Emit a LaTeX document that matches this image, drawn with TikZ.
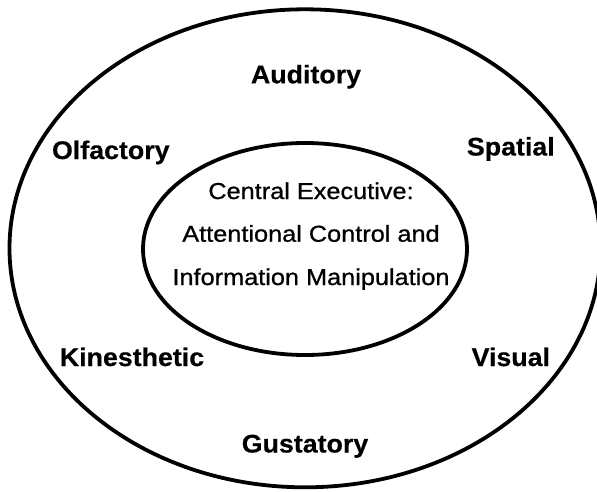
\documentclass[tikz,border=0pt]{standalone}
\usepackage{fontspec}
\newfontfamily\outerfont[FakeStretch=1.05,FakeBold=0.4]{Liberation Sans}
\newfontfamily\innerfont[FakeStretch=1.1,FakeBold=0.8]{Liberation Sans}
\begin{document}
\begin{tikzpicture}[x=1pt,y=-1pt,
  ring/.style={draw=black,line width=3.8pt},
  sense/.style={anchor=base,inner sep=0pt,font=\outerfont\bfseries\fontsize{25.5}{30}\selectfont},
  core/.style={anchor=base,inner sep=0pt,font=\innerfont\fontsize{23}{28}\selectfont}]
\useasboundingbox (0,0) rectangle (597,491);
\clip (0,0) rectangle (597,491);
\fill[white] (0,0) rectangle (597,491);
\draw[ring] (305,248.3) ellipse [x radius=295.5pt, y radius=239pt];
\draw[ring] (305,249) ellipse [x radius=162pt, y radius=106pt];
\node[sense] (aud) at (306,83.3) {Auditory};
\node[sense] (olf) at (110.8,159) {Olfactory};
\node[sense] (spa) at (510.8,155.5) {Spatial};
\node[sense] (kin) at (132,366) {Kinesthetic};
\node[sense] (vis) at (510.8,366) {Visual};
\node[sense] (gus) at (305,452.5) {Gustatory};
\node[core] (ce1) at (311,199) {Central Executive:};
\node[core] (ce2) at (311,241.7) {Attentional Control and};
\node[core] (ce3) at (311,285) {Information Manipulation};
\end{tikzpicture}
\end{document}
